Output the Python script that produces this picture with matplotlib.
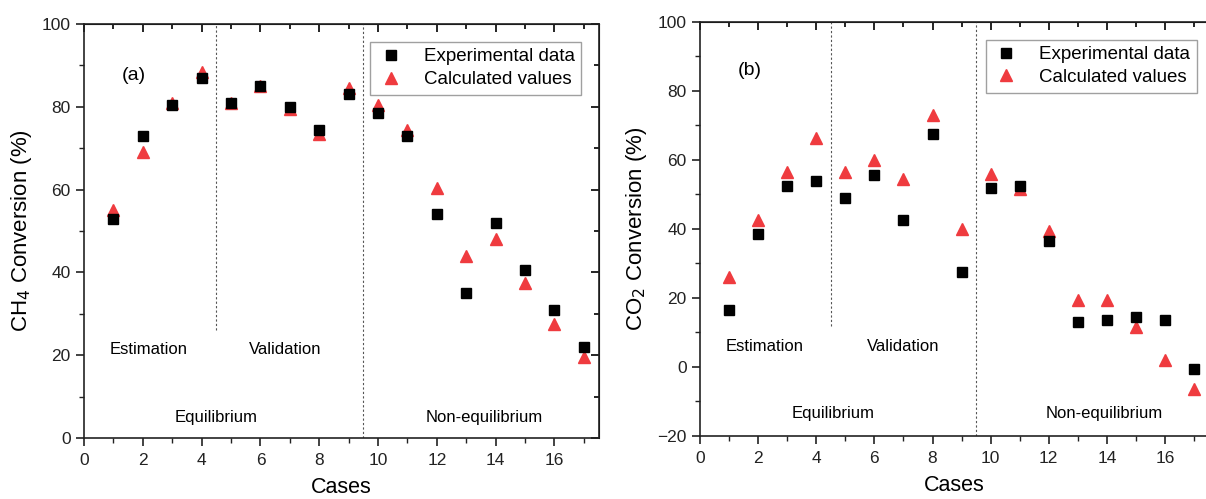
import matplotlib
matplotlib.use("Agg")
import matplotlib.pyplot as plt
from matplotlib.ticker import MultipleLocator

plt.rcParams['font.family'] = ['Liberation Sans', 'DejaVu Sans']

cases = list(range(1, 18))
ch4_exp = [53, 73, 80.5, 87, 81, 85, 80, 74.5, 83, 78.5, 73, 54, 35, 52, 40.5, 31, 22]
ch4_calc = [55, 69, 81, 88.5, 81, 85, 79.5, 73.5, 84.5, 80.5, 74.5, 60.5, 44, 48, 37.5, 27.5, 19.5]
co2_exp = [16.5, 38.5, 52.5, 54, 49, 55.5, 42.5, 67.5, 27.5, 52, 52.5, 36.5, 13, 13.5, 14.5, 13.5, -0.5]
co2_calc = [26, 42.5, 56.5, 66.5, 56.5, 60, 54.5, 73, 40, 56, 51.5, 39.5, 19.5, 19.5, 11.5, 2, -6.5]

RED = '#ef3b3f'

fig = plt.figure(figsize=(12.06, 4.99), dpi=100)
ax1 = fig.add_axes([0.0697, 0.1222, 0.4266, 0.8297])
ax2 = fig.add_axes([0.5804, 0.1263, 0.4218, 0.8297])


def style(ax, ylim, ymaj, ymin_, right_ticks=True):
    ax.set_xlim(0, 17.5)
    ax.set_ylim(*ylim)
    ax.xaxis.set_major_locator(MultipleLocator(2))
    ax.xaxis.set_minor_locator(MultipleLocator(1))
    ax.yaxis.set_major_locator(MultipleLocator(ymaj))
    ax.yaxis.set_minor_locator(MultipleLocator(ymin_))
    ax.tick_params(which='both', direction='out', labelsize=12.5, colors='#222222')
    ax.tick_params(which='major', length=6, width=1.2)
    ax.tick_params(which='minor', length=3.5, width=1.0)
    ax.tick_params(axis='x', which='major', pad=5)
    for sp in ax.spines.values():
        sp.set_linewidth(1.2)
        sp.set_color('#222222')
    top = ax.secondary_xaxis('top')
    top.xaxis.set_major_locator(MultipleLocator(2))
    top.xaxis.set_minor_locator(MultipleLocator(1))
    top.tick_params(which='both', direction='in', labeltop=False, width=1.2)
    top.tick_params(which='major', length=6)
    top.tick_params(which='minor', length=3.5)
    top.set_xticklabels([])
    if right_ticks:
        right = ax.secondary_yaxis('right')
        right.yaxis.set_major_locator(MultipleLocator(ymaj))
        right.yaxis.set_minor_locator(MultipleLocator(ymin_))
        right.tick_params(which='both', direction='in', labelright=False, width=1.2)
        right.tick_params(which='major', length=6)
        right.tick_params(which='minor', length=3.5)
        right.set_yticklabels([])
    ax.set_xlabel('Cases', fontsize=15.5, labelpad=6)


# Panel (a)
ax1.plot(cases, ch4_exp, 's', color='black', ms=7.5, label='Experimental data', zorder=3)
ax1.plot(cases, ch4_calc, '^', color=RED, ms=8.5, label='Calculated values', zorder=2)
style(ax1, (0, 100), 20, 10)
ax1.set_ylabel('CH$_4$ Conversion (%)', fontsize=16, labelpad=6)
ax1.axvline(4.5, ymin=0.26, ymax=1, color='#555555', ls=(0, (2, 2)), lw=0.8)
ax1.axvline(9.5, color='#555555', ls=(0, (2, 2)), lw=0.8)
ax1.text(1.7, 87.5, '(a)', fontsize=14, ha='center', va='center')
ax1.text(2.2, 21.5, 'Estimation', fontsize=12, ha='center', va='center')
ax1.text(6.85, 21.5, 'Validation', fontsize=12, ha='center', va='center')
ax1.text(4.5, 5, 'Equilibrium', fontsize=12, ha='center', va='center')
ax1.text(13.6, 5, 'Non-equilibrium', fontsize=12, ha='center', va='center')
leg1 = ax1.legend(loc='upper right', bbox_to_anchor=(0.985, 0.98), fontsize=13.5, frameon=True,
                  fancybox=False, edgecolor='#888888', handletextpad=1.0, borderpad=0.35,
                  labelspacing=0.3, handlelength=1.5)
leg1.get_frame().set_linewidth(1.0)

# Panel (b)
ax2.plot(cases, co2_exp, 's', color='black', ms=7.5, label='Experimental data', zorder=3, clip_on=False)
ax2.plot(cases, co2_calc, '^', color=RED, ms=8.5, label='Calculated values', zorder=2, clip_on=False)
style(ax2, (-20, 100), 20, 10, right_ticks=False)
ax2.set_ylabel('CO$_2$ Conversion (%)', fontsize=16, labelpad=6)
ax2.axvline(4.5, ymin=(12 + 20) / 120, ymax=1, color='#555555', ls=(0, (2, 2)), lw=0.8)
ax2.axvline(9.5, color='#555555', ls=(0, (2, 2)), lw=0.8)
ax2.text(1.72, 86, '(b)', fontsize=14, ha='center', va='center')
ax2.text(2.24, 6, 'Estimation', fontsize=12, ha='center', va='center')
ax2.text(7.0, 6, 'Validation', fontsize=12, ha='center', va='center')
ax2.text(4.58, -13.5, 'Equilibrium', fontsize=12, ha='center', va='center')
ax2.text(13.9, -13.5, 'Non-equilibrium', fontsize=12, ha='center', va='center')
leg2 = ax2.legend(loc='upper right', bbox_to_anchor=(0.995, 0.98), fontsize=13.5, frameon=True,
                  fancybox=False, edgecolor='#888888', handletextpad=1.0, borderpad=0.35,
                  labelspacing=0.3, handlelength=1.5)
leg2.get_frame().set_linewidth(1.0)

fig.savefig('out.png', dpi=100)
